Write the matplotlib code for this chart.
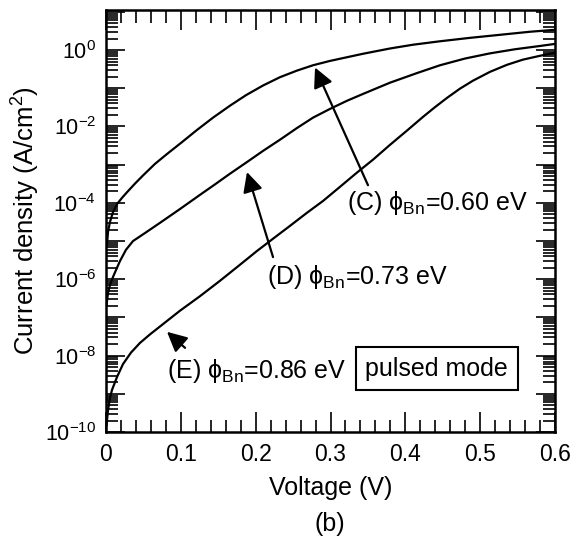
import numpy as np
import matplotlib
matplotlib.use("Agg")
import matplotlib.pyplot as plt
from matplotlib.ticker import LogLocator, MultipleLocator, FuncFormatter, NullFormatter

plt.rcParams['font.family'] = ['Liberation Sans', 'DejaVu Sans']
plt.rcParams['mathtext.fontset'] = 'custom'
plt.rcParams['mathtext.rm'] = 'Liberation Sans'
plt.rcParams['mathtext.it'] = 'Liberation Sans:italic'

# values: voltage (V) and current density (A/cm2)
v_c = [0.0013, 0.0027, 0.0053, 0.0094, 0.0147, 0.0214, 0.0281, 0.0388, 0.0494,
       0.0655, 0.0815, 0.1016, 0.1216, 0.1430, 0.1657, 0.1871, 0.2098, 0.2325,
       0.2552, 0.2766, 0.2993, 0.3434, 0.3795, 0.4102, 0.4463, 0.4864, 0.5265,
       0.5666, 0.6]
j_c = [7.9e-6, 1.74e-5, 3.16e-5, 5.75e-5, 9.3e-5, 1.35e-4, 1.9e-4, 3.2e-4, 5.2e-4,
       1.05e-3, 1.9e-3, 3.9e-3, 8.1e-3, 1.70e-2, 3.5e-2, 6.6e-2, 0.118, 0.195,
       0.29, 0.40, 0.52, 0.80, 1.10, 1.38, 1.70, 2.09, 2.51,
       3.02, 3.39]

v_d = [0.0007, 0.0027, 0.0053, 0.0094, 0.0147, 0.0187, 0.0267, 0.0361, 0.0521,
       0.0722, 0.0989, 0.1256, 0.1457, 0.1657, 0.1884, 0.2098, 0.2325, 0.2552,
       0.2766, 0.2993, 0.3220, 0.3434, 0.3795, 0.4156, 0.4463, 0.4797, 0.5131,
       0.5465, 0.5799, 0.6]
j_d = [2.14e-7, 4.37e-7, 7.1e-7, 1.15e-6, 2.0e-6, 3.0e-6, 5.9e-6, 1.0e-5, 1.62e-5,
       3.0e-5, 6.9e-5, 1.62e-4, 3.05e-4, 5.8e-4, 1.17e-3, 2.29e-3, 4.5e-3, 9.1e-3,
       1.70e-2, 2.88e-2, 4.7e-2, 7.1e-2, 0.14, 0.25, 0.40, 0.60, 0.82,
       1.05, 1.28, 1.45]

v_e = [0.0007, 0.0027, 0.0053, 0.0080, 0.0147, 0.0227, 0.0334, 0.0454, 0.0588,
       0.0722, 0.0989, 0.1256, 0.1523, 0.1791, 0.2018, 0.2232, 0.2459, 0.2686,
       0.2900, 0.3127, 0.3354, 0.3568, 0.3795, 0.4022, 0.4236, 0.4396, 0.4557,
       0.4731, 0.4904, 0.5131, 0.5359, 0.5572, 0.5799, 0.6]
j_e = [1.5e-10, 3.8e-10, 7.8e-10, 1.26e-9, 2.75e-9, 6.0e-9, 1.2e-8, 2.15e-8, 3.6e-8,
       5.8e-8, 1.5e-7, 3.6e-7, 9.1e-7, 2.4e-6, 5.5e-6, 1.15e-5, 2.5e-5, 5.5e-5,
       1.12e-4, 2.63e-4, 6.2e-4, 1.35e-3, 3.3e-3, 7.8e-3, 1.78e-2, 3.2e-2, 5.6e-2,
       9.8e-2, 0.158, 0.269, 0.412, 0.562, 0.708, 0.851]

labels = ['(C) \u03d5$_{\\mathregular{Bn}}$=0.60 eV',
          '(D) \u03d5$_{\\mathregular{Bn}}$=0.73 eV',
          '(E) \u03d5$_{\\mathregular{Bn}}$=0.86 eV']
label_xy = [(0.322, 6.6e-5), (0.215, 7.6e-7), (0.0815, 2.6e-9)]
arrow_head = [(0.2793, 0.35), (0.1884, 6.4e-4), (0.0815, 4.2e-8)]
arrow_tail = [(0.3501, 2.9e-4), (0.2232, 3.8e-6), (0.1056, 1.6e-8)]

fig = plt.figure(figsize=(5.84, 5.37), dpi=100)
ax = fig.add_axes([106 / 584, 1 - 432 / 537, 449 / 584, 422 / 537])

for v, j in [(v_c, j_c), (v_d, j_d), (v_e, j_e)]:
    ax.plot(v, j, color='black', lw=1.6, solid_joinstyle='round')

ax.set_yscale('log')
ax.set_xlim(0, 0.6)
ax.set_ylim(1e-10, 11.2)

ax.xaxis.set_major_locator(MultipleLocator(0.1))
ax.xaxis.set_minor_locator(MultipleLocator(0.02))
ax.xaxis.set_major_formatter(FuncFormatter(lambda x, p: '0' if abs(x) < 1e-9 else '%.1f' % x))

ax.yaxis.set_major_locator(LogLocator(base=10, numticks=30))
ax.yaxis.set_minor_locator(LogLocator(base=10, subs=np.arange(2, 10), numticks=30))
ax.yaxis.set_minor_formatter(NullFormatter())


def ylab(y, pos):
    e = int(round(np.log10(y)))
    if e % 2:
        return ''
    return '$\\mathregular{10^{%d}}$' % e


ax.yaxis.set_major_formatter(FuncFormatter(ylab))

ax.tick_params(which='both', direction='in', top=True, right=True, width=1.2, color='black')
ax.tick_params(axis='x', which='major', length=14.5, labelsize=16.5, pad=8)
ax.tick_params(axis='x', which='minor', length=9)
ax.tick_params(axis='y', which='major', length=14, labelsize=15.5, pad=7)
ax.tick_params(axis='y', which='minor', length=8.5)
for s in ax.spines.values():
    s.set_linewidth(1.8)

ax.set_xlabel('Voltage (V)', fontsize=18)
ax.xaxis.set_label_coords(0.5, -0.105)
ax.set_ylabel('Current density (A/cm$^{\\mathregular{2}}$)', fontsize=18.5)
ax.yaxis.set_label_coords(-0.143, 0.5)

for lab, xy, head, tail in zip(labels, label_xy, arrow_head, arrow_tail):
    ax.text(xy[0], xy[1], lab, fontsize=18, ha='left', va='baseline')
    ax.annotate('', xy=head, xytext=tail,
                arrowprops=dict(arrowstyle='-|>', color='black', lw=1.6,
                                mutation_scale=30, shrinkA=0, shrinkB=0))

ax.text(0.442, 4.5e-9, 'pulsed mode', fontsize=18, ha='center', va='center',
        bbox=dict(boxstyle='square,pad=0.38', facecolor='white', edgecolor='black', lw=1.5))

fig.text(330 / 584, 1 - 524 / 537, '(b)', fontsize=18, ha='center', va='center')

fig.savefig('out.png', dpi=100)
